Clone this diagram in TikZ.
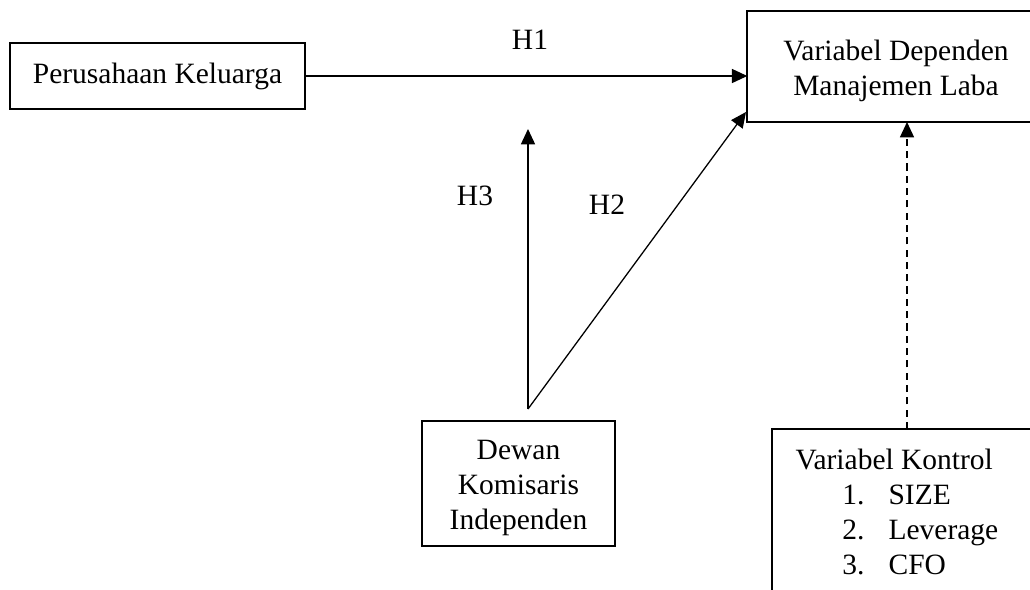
\documentclass[tikz,border=0pt]{standalone}
\usepackage{fontspec}
\setmainfont{Liberation Serif}
\usepackage{tikz}
\usetikzlibrary{arrows.meta, positioning, calc}
\newcommand{\topstrut}{\rule{0pt}{11.3pt}}
\tikzset{
  box/.style={rectangle, draw=black, line width=0.8pt, inner sep=0pt, outer sep=0pt, align=center, font=\fontsize{11.5}{13.6}\selectfont},
  frame/.style={draw=black, line width=0.8pt},
  lbl/.style={inner sep=0pt, font=\fontsize{11.5}{13.6}\selectfont},
  arrow/.style={-{Triangle[length=6pt, width=5.5pt]}, line width=0.5pt},
}

\begin{document}
\begin{tikzpicture}[x=0.39pt, y=-0.39pt]
\useasboundingbox (0,0) rectangle (1030,590);
\coordinate (edge) at (1030,590);
\node[box, minimum width=115pt, minimum height=25.7pt] (kel) at (157.5,76) {Perusahaan Keluarga};
\node[box, draw=none, minimum width=116pt, minimum height=43.3pt] (dep) at (896,66.5) {\topstrut Variabel Dependen\\Manajemen Laba};
\node[box, minimum width=75.3pt, minimum height=48.8pt] (dki) at (518.5,483.5) {\topstrut Dewan\\Komisaris\\Independen};
\node[box, draw=none, anchor=north west, minimum width=100pt, minimum height=70pt] (ktr) at (772,429) {};
\node[lbl, anchor=north west, align=left] (ktrtxt) at (795,449) {Variabel Kontrol\\
  \hspace*{18.3pt}\makebox[18pt][l]{1.}SIZE\\
  \hspace*{18.3pt}\makebox[18pt][l]{2.}Leverage\\
  \hspace*{18.3pt}\makebox[18pt][l]{3.}CFO};
% boxes cut by the page edge
\draw[frame] (dep.north west -| edge) -- (dep.north west) -- (dep.south west) -- (dep.south west -| edge);
\draw[frame] (ktr.north west -| edge) -- (ktr.north west) -- (ktr.north west |- edge);
\coordinate (apex) at (528,409);
\coordinate (h3end) at (528,129);
\coordinate (h2end) at (746,112);
\coordinate (ctl) at (907,429);
\node[lbl] (h1) at (530,40) {H1};
\node[lbl] (h3) at (475,196) {H3};
\node[lbl] (h2) at (607,205) {H2};
\draw[arrow] (kel.east) -- (kel.east -| dep.west);
\draw[arrow] (apex) -- (h3end);
\draw[arrow] (apex) -- (h2end);
\draw[arrow, dash pattern=on 2.8pt off 2pt] (ctl) -- (ctl |- dep.south);
\end{tikzpicture}
\end{document}
